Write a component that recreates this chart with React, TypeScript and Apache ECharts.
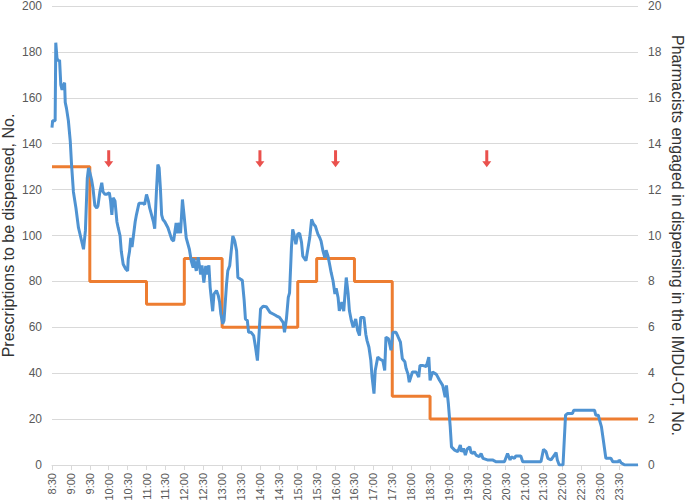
import React, { useEffect, useRef } from "react";
import * as echarts from "echarts";

// minutes since midnight, prescriptions waiting
const prescriptionTimes = [
  510, 511, 515, 516, 518, 521, 522, 524, 526, 528, 530, 531, 533, 536, 539, 541, 544, 548, 552, 557,
  560, 563, 566, 568, 570, 573, 575, 578, 581, 583, 586, 589, 591, 594, 597, 601, 603, 605, 607, 610,
  613, 615, 618, 620, 623, 627, 630, 631, 633, 635, 637, 642, 644, 648, 655, 657, 660, 663, 665, 668,
  671, 673, 676, 678, 680, 682, 684, 686, 689, 694, 700, 703, 707, 709, 712, 714, 717, 720, 723, 728,
  731, 734, 735, 739, 742, 746, 748, 751, 754, 756, 759, 761, 765, 767, 771, 774, 776, 778, 781, 783,
  787, 789, 792, 795, 797, 800, 803, 805, 809, 812, 815, 817, 820, 822, 826, 830, 833, 836, 839, 841,
  845, 850, 856, 861, 866, 871, 877, 879, 882, 885, 887, 890, 892, 894, 897, 900, 903, 906, 908, 913,
  916, 919, 922, 925, 928, 932, 935, 937, 940, 943, 945, 948, 951, 953, 956, 959, 961, 964, 966, 970,
  973, 977, 980, 982, 985, 988, 992, 995, 998, 1000, 1005, 1008, 1010, 1013, 1016, 1018, 1021, 1023, 1027, 1031,
  1035, 1038, 1040, 1044, 1048, 1051, 1056, 1059, 1063, 1066, 1070, 1072, 1075, 1077, 1082, 1088, 1092, 1094, 1098, 1104,
  1108, 1110, 1114, 1120, 1125, 1130, 1134, 1136, 1139, 1142, 1144, 1149, 1154, 1158, 1160, 1163, 1166, 1169, 1173, 1175,
  1178, 1180, 1183, 1188, 1191, 1194, 1201, 1209, 1215, 1228, 1233, 1237, 1239, 1244, 1246, 1254, 1257, 1286, 1290, 1294,
  1297, 1302, 1310, 1312, 1315, 1321, 1325, 1328, 1336, 1338, 1371, 1373, 1377, 1379, 1382, 1385, 1389, 1397, 1400, 1409,
  1410, 1413, 1419, 1440,
];
const prescriptionValues = [
  147, 150, 150, 184, 177, 176, 176.5, 165.6, 163.4, 165.6, 166.5, 158, 155.4, 150, 141, 131, 119, 112, 103.4, 97.6,
  94, 102, 125, 129.4, 127.5, 124, 120.7, 113, 112, 113, 119, 123, 119, 118, 118, 118.6, 115, 109, 116.4, 115,
  106, 103.4, 99.9, 93, 87.5, 85.4, 84.6, 89.8, 93, 99, 95, 106, 109, 114, 114, 113.5, 117.9, 115, 112, 109,
  106, 103, 120.7, 130.9, 129.5, 120.7, 109, 107, 106, 103.4, 98.3, 97.6, 105.5, 101, 105.5, 101, 115.7, 107.7, 99, 94,
  89, 86, 90, 84.6, 90.5, 83, 87, 79.5, 86.7, 83, 87, 77.4, 67, 74.5, 76, 73.7, 71, 65.8, 61.5, 63,
  78.8, 84.6, 86.8, 94.7, 99.8, 97.6, 93.3, 81.7, 81, 80.5, 71.6, 63.6, 63, 57.8, 57.8, 56.4, 51.3, 45.5, 59, 68,
  69.2, 69, 66.5, 65.8, 65, 64.3, 62, 57.8, 63.6, 73, 75, 94.7, 102.7, 100.6, 96.2, 100.6, 101, 97, 91, 89,
  94, 99, 107, 105, 104, 100.6, 99, 97.6, 93.3, 90.4, 93.6, 91, 86.8, 83.9, 80.3, 74.5, 77, 73, 67.2, 71,
  67, 81.7, 74.5, 67.2, 63, 60, 63.6, 58.6, 56.4, 64.3, 64.3, 57, 54.2, 51.3, 45.5, 38.3, 31.1, 41.2, 47, 46,
  45.5, 41.2, 55.7, 55, 50, 57.8, 57.8, 56, 53.5, 46.3, 45, 42, 39.6, 36.1, 40.5, 40.5, 38.3, 43.4, 43.4, 42.9,
  47, 36.9, 40.5, 39.5, 36.9, 34.7, 29.6, 34.7, 26.8, 16.6, 7.9, 6.5, 5.8, 8.7, 5.8, 7.2, 4.3, 7, 7.9, 5.5,
  5, 5.8, 4.3, 3.6, 5, 2.9, 2.2, 2.2, 1.4, 1.4, 5, 2.2, 3.5, 2.9, 3.9, 3.9, 1.4, 1.4, 6.8, 5.8,
  2.9, 2.2, 5.4, 2.2, 0, 0, 21.7, 22.4, 22.4, 23.9, 23.9, 21.7, 21.7, 19.5, 16.6, 10.8, 2.9, 2.9, 1.4, 1.4,
  2.2, 1, 0, 0,
];

// pharmacists on duty (value holds from this time until the next)
const staffTimes = [510, 570, 660, 720, 780, 900, 930, 990, 1050, 1110, 1440];
const staffValues = [13, 8, 7, 9, 6, 8, 9, 8, 3, 2, 2];

// red arrow markers
const arrowTimes = [600, 840, 960, 1200];
const arrowLevel = 133.4;

const leftTicks = { min: 0, max: 200, interval: 20 };
const rightTicks = { min: 0, max: 20, interval: 2 };
const xTicks = { min: 510, max: 1440, interval: 30 };

const fmtTime = (v: number) => {
  const h = Math.floor(v / 60);
  const m = Math.round(v % 60);
  return `${h}:${m < 10 ? "0" + m : m}`;
};

export default function App() {
  const ref = useRef<HTMLDivElement>(null);
  useEffect(() => {
    if (!ref.current) return;
    const chart = echarts.init(ref.current, undefined, { renderer: "svg" });
    const blue = prescriptionTimes.map((t, i) => [t, prescriptionValues[i]]);
    const orange = staffTimes.map((t, i) => [t, staffValues[i]]);
    const arrows = arrowTimes.map((t) => [t, arrowLevel]);
    const labelColor = "#595959";
    const fontFamily = "'Liberation Sans', 'Open Sans', sans-serif";
    chart.setOption({
      animation: false,
      textStyle: { fontFamily },
      grid: {
        left: 52,
        right: 47,
        top: 6,
        bottom: 35,
        containLabel: false,
        outerBoundsMode: "none",
      },
      xAxis: {
        type: "value",
        min: xTicks.min,
        max: xTicks.max,
        interval: xTicks.interval,
        splitLine: { show: false },
        axisLine: { show: true, lineStyle: { color: "#D9D9D9", width: 1 } },
        axisTick: { show: true, length: 5, lineStyle: { color: "#D9D9D9" } },
        axisLabel: {
          rotate: 90,
          fontSize: 11,
          color: labelColor,
          margin: 8,
          showMaxLabel: false,
          formatter: (v: number) => (v >= 1440 ? "" : fmtTime(v)),
        },
      },
      yAxis: [
        {
          type: "value",
          position: "left",
          min: leftTicks.min,
          max: leftTicks.max,
          interval: leftTicks.interval,
          axisLine: { show: false },
          axisTick: { show: false },
          splitLine: { show: true, lineStyle: { color: "#D9D9D9", width: 1 } },
          axisLabel: { fontSize: 12, color: labelColor, margin: 10 },
          name: "Prescriptions to be dispensed, No.",
          nameLocation: "middle",
          nameRotate: 90,
          nameGap: 36,
          nameMoveOverlap: false,
          nameTextStyle: { fontSize: 16, color: "#333" },
        },
        {
          type: "value",
          position: "right",
          min: rightTicks.min,
          max: rightTicks.max,
          interval: rightTicks.interval,
          axisLine: { show: false },
          axisTick: { show: false },
          splitLine: { show: false },
          axisLabel: { fontSize: 12, color: labelColor, margin: 10 },
          name: "Pharmacists engaged in dispensing in the IMDU-OT, No.",
          nameLocation: "middle",
          nameRotate: -90,
          nameGap: 31,
          nameMoveOverlap: false,
          nameTextStyle: { fontSize: 16, color: "#333" },
        },
      ],
      series: [
        {
          type: "line",
          yAxisIndex: 1,
          data: orange,
          step: "end",
          showSymbol: false,
          lineStyle: { color: "#ED7D31", width: 3 },
          z: 2,
        },
        {
          type: "line",
          yAxisIndex: 0,
          data: blue,
          showSymbol: false,
          lineStyle: { color: "#4F93D2", width: 3 },
          z: 3,
        },
        {
          type: "scatter",
          yAxisIndex: 0,
          data: arrows,
          symbol: "path://M3,0 L6,0 L6,11 L9,11 L4.5,17 L0,11 L3,11 Z",
          symbolSize: [9, 17],
          itemStyle: { color: "#E52521" },
          z: 4,
        },
      ],
    });
    return () => chart.dispose();
  }, []);
  return (
    <div
      ref={ref}
      style={{ position: "fixed", left: 0, top: 0, width: 685, height: 500, background: "#fff" }}
    />
  );
}
